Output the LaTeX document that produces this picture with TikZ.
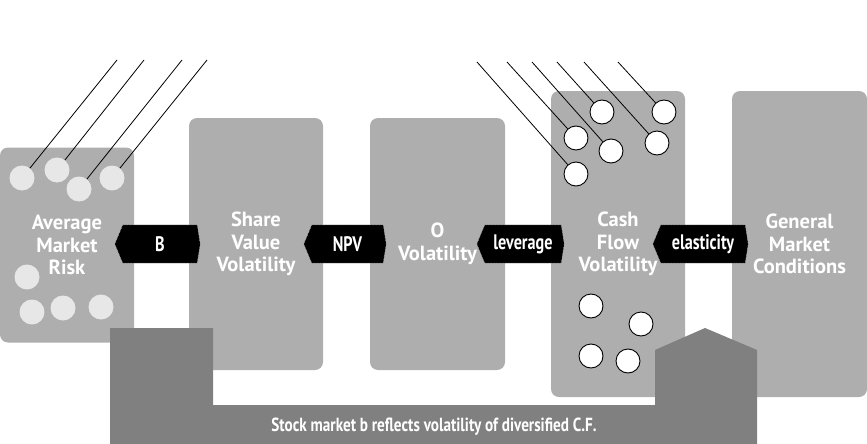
\documentclass[tikz,border=0pt]{standalone}
\usepackage{fontspec}
\setmainfont{PT Sans}
\newfontfamily\tagfont[FakeStretch=0.77]{PT Sans}
\newfontfamily\notefont[FakeStretch=0.8]{PT Sans}
\usepackage{tikz}
\definecolor{panelgray}{RGB}{174,174,174}
\definecolor{bargray}{RGB}{128,128,128}
\definecolor{dotgray}{RGB}{231,231,231}
\pgfdeclarelayer{edgelayer}
\pgfdeclarelayer{nodelayer}
\pgfsetlayers{edgelayer,nodelayer,main}
\tikzstyle{panel}=[rectangle,rounded corners=8pt,fill=panelgray,text=white,align=center,inner sep=0pt,font=\bfseries\fontsize{20.5}{22.5}\selectfont]
\tikzstyle{tagbox}=[rectangle,inner sep=0pt,minimum height=38pt,text=white,font=\tagfont\bfseries\fontsize{21}{24}\selectfont]
\tikzstyle{tagfill}=[fill=black,draw=white!75!black,densely dotted,line width=0.5pt]
\tikzstyle{mdot}=[circle,fill=dotgray,minimum size=25pt,inner sep=0pt]
\tikzstyle{fdot}=[circle,fill=white,draw=black,line width=0.9pt,minimum size=24pt,inner sep=0pt]
\tikzstyle{bartext}=[anchor=base,text=white,inner sep=0pt,font=\notefont\bfseries\fontsize{19}{21}\selectfont]

\begin{document}
\begin{tikzpicture}[x=1pt,y=-1pt]
            \useasboundingbox (0,0) rectangle (867,444);

            \begin{pgfonlayer}{edgelayer}
            \node [style = panel, minimum width=134pt, minimum height=195pt] (risk) at (67,245) {Average\\Market\\Risk};
            \node [style = panel, minimum width=134pt, minimum height=252pt] (share) at (256,244) {Share\\Value\\Volatility};
            \node [style = panel, minimum width=135pt, minimum height=252pt] (ovol) at (437.5,244) {O\\Volatility};
            \node [style = panel, minimum width=134pt, minimum height=306pt] (cash) at (618,244) {Cash\\Flow\\Volatility};
            \node [style = panel, minimum width=135pt, minimum height=306pt] (gen) at (799.5,244) {General\\Market\\Conditions};
            \end{pgfonlayer}

            \node [style = tagbox, minimum width=74pt] (beta) at (160,244) {B};
            \node [style = tagbox, minimum width=71pt] (npv) at (347.5,244) {NPV};
            \node [style = tagbox, minimum width=76pt] (lev) at (523,244) {leverage};
            \node [style = tagbox, minimum width=84pt] (elast) at (703,244) {elasticity};

        \begin{pgfonlayer}{nodelayer}
            \fill [bargray] (110,444) -- (110,328) -- (213,328) -- (213,405) -- (655,405)
                -- (655,350) -- (705,328) -- (757,350) -- (757,444) -- cycle;

            \draw [style = tagfill] (beta.north west) -- (beta.north east) -- ([xshift=3pt]beta.east) -- (beta.south east) -- (beta.south west) -- ([xshift=-8pt]beta.west) -- cycle;
            \draw [style = tagfill] (npv.north west) -- (npv.north east) -- ([xshift=3pt]npv.east) -- (npv.south east) -- (npv.south west) -- ([xshift=-8pt]npv.west) -- cycle;
            \draw [style = tagfill] (lev.north west) -- (lev.north east) -- ([xshift=3pt]lev.east) -- (lev.south east) -- (lev.south west) -- ([xshift=-8pt]lev.west) -- cycle;
            \draw [style = tagfill] (elast.north west) -- (elast.north east) -- ([xshift=3pt]elast.east) -- (elast.south east) -- (elast.south west) -- ([xshift=-8pt]elast.west) -- cycle;
        \end{pgfonlayer}

            % market risk dots
            \node [style = mdot] (m1) at (22,178) {};
            \node [style = mdot] (m2) at (57,170) {};
            \node [style = mdot] (m3) at (79,189) {};
            \node [style = mdot] (m4) at (112,178) {};
            \node [style = mdot] (m5) at (27,277) {};
            \node [style = mdot] (m6) at (32,312) {};
            \node [style = mdot] (m7) at (63,308) {};
            \node [style = mdot] (m8) at (101,307) {};

            \coordinate (t1) at (117,60);
            \coordinate (t2) at (144,60);
            \coordinate (t3) at (182,60);
            \coordinate (t4) at (207,60);

            \draw [line width=0.8pt] (m1) -- (t1);
            \draw [line width=0.8pt] (m2) -- (t2);
            \draw [line width=0.8pt] (m3) -- (t3);
            \draw [line width=0.8pt] (m4) -- (t4);

            % cash flow dots
            \node [style = fdot] (f1) at (602,112) {};
            \node [style = fdot] (f2) at (664,112) {};
            \node [style = fdot] (f3) at (576,138) {};
            \node [style = fdot] (f4) at (611,151) {};
            \node [style = fdot] (f5) at (657,143) {};
            \node [style = fdot] (f6) at (576,174) {};

            \node [style = fdot] (g1) at (591,306) {};
            \node [style = fdot] (g2) at (641,324) {};
            \node [style = fdot] (g3) at (591,356) {};
            \node [style = fdot] (g4) at (628,361) {};

            \coordinate (s6) at (477,62);
            \coordinate (s3) at (507,62);
            \coordinate (s4) at (532,62);
            \coordinate (s1) at (557,62);
            \coordinate (s5) at (584,62);
            \coordinate (s2) at (618,62);

            \draw [line width=0.8pt] (s6) -- (f6);
            \draw [line width=0.8pt] (s3) -- (f3);
            \draw [line width=0.8pt] (s4) -- (f4);
            \draw [line width=0.8pt] (s1) -- (f1);
            \draw [line width=0.8pt] (s5) -- (f5);
            \draw [line width=0.8pt] (s2) -- (f2);

            \node [style = bartext] (note) at (434,431) {Stock market b reflects volatility of diversified C.F.};
    \end{tikzpicture}
\end{document}
